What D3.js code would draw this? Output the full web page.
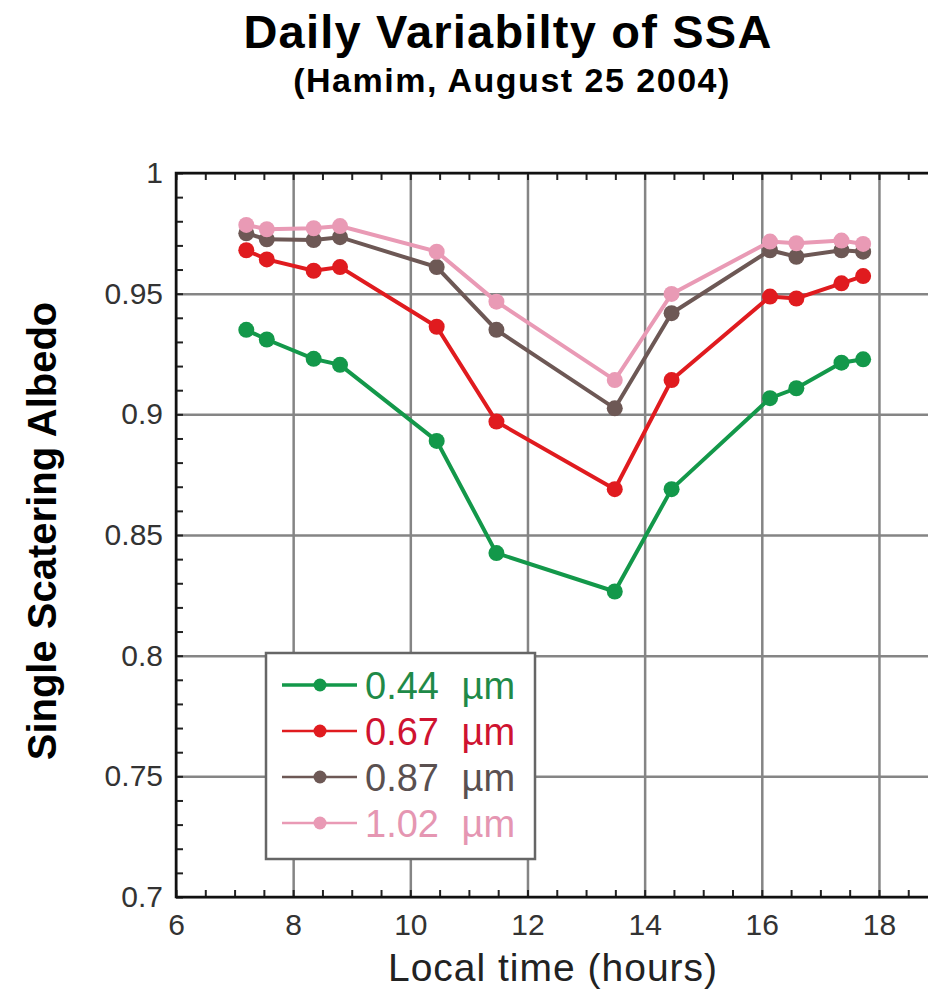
<!DOCTYPE html>
<html>
<head>
<meta charset="utf-8">
<script src="https://cdn.jsdelivr.net/npm/d3@7"></script>
<style>
  body { margin: 0; background: #fff; }
  svg { display: block; font-family: Arial, 'Liberation Sans', Helvetica, sans-serif; }
</style>
</head>
<body>
<script>
// Dados de entrada
const horas = [7.2, 7.55, 8.35, 8.8, 10.45, 11.47, 13.49, 14.46, 16.14, 16.59, 17.36, 17.73]

const ssa044 = [0.935, 0.931, 0.923, 0.9205, 0.889, 0.8425, 0.8266, 0.869, 0.9067, 0.9108, 0.9214, 0.9228]
const ssa067 = [0.968, 0.9642, 0.9595, 0.961, 0.9363, 0.897, 0.869, 0.9142, 0.9488, 0.948, 0.9543, 0.9573]
const ssa087 = [0.975, 0.9725, 0.9722, 0.9734, 0.961, 0.935, 0.9025, 0.9419, 0.968, 0.9653, 0.968, 0.9674]
const ssa102 = [0.9785, 0.9767, 0.9771, 0.978, 0.9674, 0.9467, 0.9142, 0.9499, 0.9716, 0.9709, 0.972, 0.9706]

const rotulos = ['0.44 \u00b5m', '0.67 \u00b5m', '0.87 \u00b5m', '1.02 \u00b5m']
const cores = ['#13984a', '#e01b1f', '#6d5855', '#e99ab5']
const coresTexto = ['#1f8a48', '#cf1330', '#5a5050', '#e596b2']

const gradeX = [6, 8, 10, 12, 14, 16, 18, 20]
const ticksX = [6, 8, 10, 12, 14, 16, 18]
const ticksY = [0.7, 0.75, 0.8, 0.85, 0.9, 0.95, 1]

const titulo = 'Daily Variabilty of SSA'
const subtitulo = '(Hamim, August 25 2004)'
const tituloX = 'Local time (hours)'
const tituloY = 'Single Scatering Albedo'

// juntando horas com valores
var series = [ssa044, ssa067, ssa087, ssa102].map(function (valores, i) {
  return {
    rotulo: rotulos[i],
    cor: cores[i],
    corTexto: coresTexto[i],
    pontos: valores.map(function (v, j) { return {hora: horas[j], ssa: v} })
  }
})

// dimensoes
const margem = {topo: 173, esquerda: 176}
const pxHora = 58.58
const largura = (20 - 6) * pxHora
const altura = 724

var meuSVG = d3.select('body')
              .append('svg')
                .attr('width', 928)
                .attr('height', 991)

var grupo = meuSVG.append('g')
                .attr('transform', 'translate(' + margem.esquerda + ',' + margem.topo + ')')

// escalas
var escalaX = d3.scaleLinear()
                .domain([6, 20])
                .range([0, largura])

var escalaY = d3.scaleLinear()
                .domain([0.7, 1])
                .range([altura, 0])

// grade
grupo.append('g')
      .attr('class', 'gradeV')
      .attr('transform', 'translate(0,' + altura + ')')
      .call(d3.axisBottom(escalaX).tickValues(gradeX).tickSize(-altura).tickFormat(''))

grupo.append('g')
      .attr('class', 'gradeH')
      .call(d3.axisLeft(escalaY).tickValues(ticksY).tickSize(-largura).tickFormat(''))

grupo.selectAll('.gradeV path, .gradeH path').remove()
grupo.selectAll('.gradeV line, .gradeH line')
      .attr('stroke', '#858585')
      .attr('stroke-width', 2.5)

// ticks menores para dentro
var menoresX = d3.range(6, 20.01, 0.5)
var menoresY = d3.range(0.7, 1.0001, 0.01)

grupo.append('g')
      .attr('class', 'menor')
      .attr('transform', 'translate(0,' + altura + ')')
      .call(d3.axisBottom(escalaX).tickValues(menoresX).tickSize(-7).tickFormat(''))

grupo.append('g')
      .attr('class', 'menor')
      .call(d3.axisTop(escalaX).tickValues(menoresX).tickSize(-7).tickFormat(''))

grupo.append('g')
      .attr('class', 'menor')
      .call(d3.axisLeft(escalaY).tickValues(menoresY).tickSize(-7).tickFormat(''))

grupo.selectAll('.menor path').remove()
grupo.selectAll('.menor line')
      .attr('stroke', '#222')
      .attr('stroke-width', 2)

// moldura
grupo.append('rect')
      .attr('x', 0)
      .attr('y', 0)
      .attr('width', largura)
      .attr('height', altura)
      .attr('fill', 'none')
      .attr('stroke', '#111')
      .attr('stroke-width', 2.5)

// rotulos dos eixos
var eixoBase = grupo.append('g')
                .attr('transform', 'translate(0,' + altura + ')')
                .call(d3.axisBottom(escalaX).tickValues(ticksX).tickSize(0).tickPadding(17))

var eixoEsquerda = grupo.append('g')
                .call(d3.axisLeft(escalaY).tickValues(ticksY).tickSize(0).tickPadding(13)
                  .tickFormat(function (d) { return String(d) }))

eixoBase.select('.domain').remove()
eixoEsquerda.select('.domain').remove()
grupo.selectAll('.tick text')
      .attr('font-size', 30)
      .attr('font-family', 'Arial, Liberation Sans, sans-serif')
      .attr('fill', '#333')

// linhas das series
var geradorLinha = d3.line()
                .x(function (d) { return escalaX(d.hora) })
                .y(function (d) { return escalaY(d.ssa) })

var grupoSerie = grupo.selectAll('.serie')
                .data(series)
                .enter()
                .append('g')
                  .attr('class', 'serie')

grupoSerie.append('path')
      .attr('d', function (d) { return geradorLinha(d.pontos) })
      .attr('fill', 'none')
      .attr('stroke', function (d) { return d.cor })
      .attr('stroke-width', 4)

grupoSerie.selectAll('circle')
      .data(function (d) { return d.pontos.map(function (p) { return {p: p, cor: d.cor} }) })
      .enter()
      .append('circle')
        .attr('cx', function (d) { return escalaX(d.p.hora) })
        .attr('cy', function (d) { return escalaY(d.p.ssa) })
        .attr('r', 8)
        .attr('fill', function (d) { return d.cor })

// legenda
var legenda = meuSVG.append('g')
                .attr('transform', 'translate(266,653)')

legenda.append('rect')
      .attr('width', 269)
      .attr('height', 206)
      .attr('fill', '#fff')
      .attr('stroke', '#666')
      .attr('stroke-width', 2.5)

var itens = legenda.selectAll('.item')
              .data(series)
              .enter()
              .append('g')
                .attr('class', 'item')
                .attr('transform', function (d, i) { return 'translate(0,' + (32 + i * 46) + ')' })

itens.append('line')
      .attr('x1', 16)
      .attr('x2', 91)
      .attr('stroke', function (d) { return d.cor })
      .attr('stroke-width', function (d, i) { return i === 0 ? 3.5 : 2.5 })

itens.append('circle')
      .attr('cx', 54)
      .attr('r', 6.5)
      .attr('fill', function (d) { return d.cor })

itens.append('text')
      .attr('x', 99)
      .attr('y', 14)
      .attr('font-size', 38)
      .attr('word-spacing', 12)
      .attr('fill', function (d) { return d.corTexto })
      .text(function (d) { return d.rotulo })

// titulos
meuSVG.append('text')
      .attr('x', 508)
      .attr('y', 48)
      .attr('text-anchor', 'middle')
      .attr('font-size', 47)
      .attr('font-weight', 'bold')
      .attr('letter-spacing', 1.2)
      .text(titulo)

meuSVG.append('text')
      .attr('x', 512)
      .attr('y', 92)
      .attr('text-anchor', 'middle')
      .attr('font-size', 34)
      .attr('font-weight', 'bold')
      .attr('letter-spacing', 1.5)
      .text(subtitulo)

meuSVG.append('text')
      .attr('x', 553)
      .attr('y', 981)
      .attr('text-anchor', 'middle')
      .attr('font-size', 39)
      .attr('letter-spacing', 1)
      .attr('fill', '#222')
      .text(tituloX)

meuSVG.append('text')
      .attr('transform', 'translate(56,531) rotate(-90)')
      .attr('text-anchor', 'middle')
      .attr('font-size', 40)
      .attr('font-weight', 'bold')
      .text(tituloY)
</script>
</body>
</html>
